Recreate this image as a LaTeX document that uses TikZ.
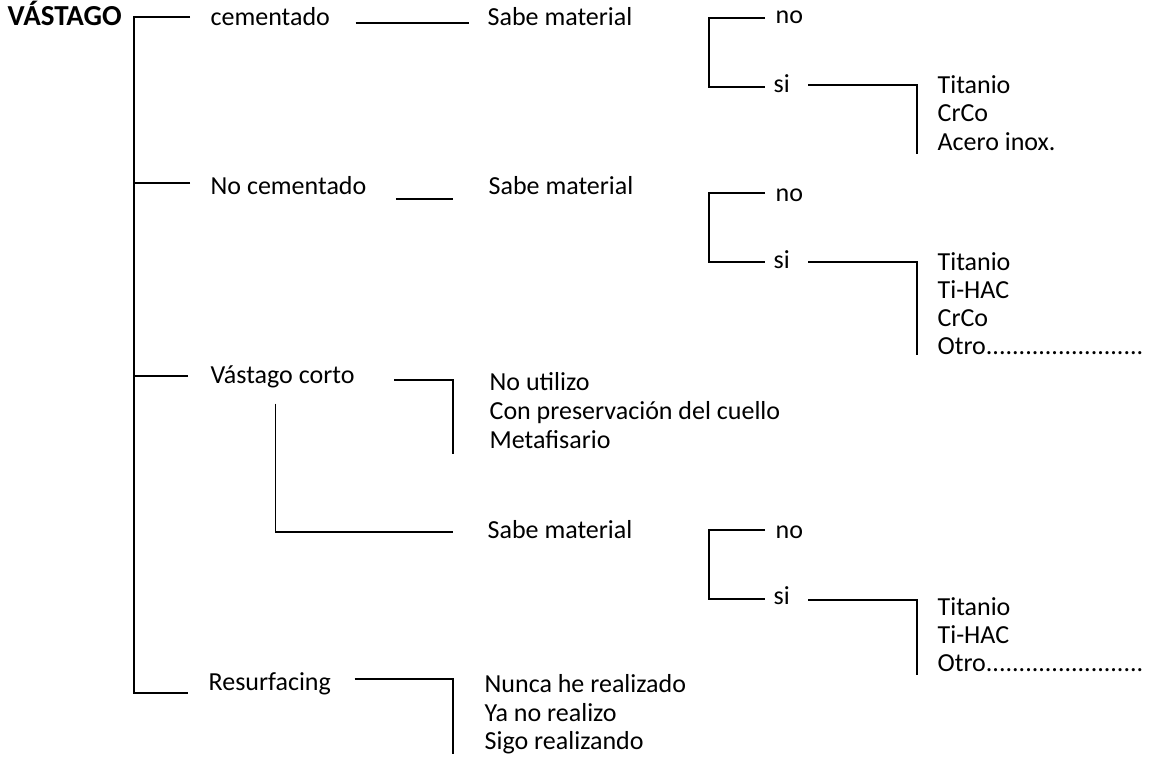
\documentclass[tikz,border=0pt]{standalone}
\usepackage{fontspec}
\setmainfont{Carlito}
\usepackage{tikz}
\newcommand{\otrolinea}{Otro........................}

\begin{document}
\begin{tikzpicture}[x=1pt,y=-1pt,line width=1.3pt]\tikzstyle{every node}+=[inner sep=0pt,anchor=west,text height=18pt,text depth=6pt,font=\fontsize{26}{27}\selectfont]
  \useasboundingbox (0,0) rectangle (1162,765);
  % first column
  \node (vastago) at (7,20) {\fontsize{29}{30}\selectfont\bfseries VÁSTAGO};
  \node (cem) at (210,20) {cementado};
  \node (nocem) at (210,188) {No cementado};
  \node (corto) at (210,377) {Vástago corto};
  \node (resurf) at (208,684) {Resurfacing};
  \draw ([xshift=-20pt,yshift=3pt]cem.west) -- ++(-56pt,0) |- ([xshift=-20pt,yshift=-9pt]resurf.west);
  \draw ([xshift=-20pt,yshift=5pt]nocem.west) -- ++(-56pt,0);
  \draw ([xshift=-22pt,yshift=1pt]corto.west) -- ++(-54pt,0);
  % sabe material
  \node (sabeA) at (487,20) {Sabe material};
  \node (sabeB) at (488,188) {Sabe material};
  \node (sabeC) at (487,532) {Sabe material};
  \draw ([xshift=25pt,yshift=-3pt]cem.east) -- ([xshift=-18pt,yshift=-3pt]sabeA.west);
  \draw ([xshift=29pt,yshift=-11pt]nocem.east) -- ([xshift=-35pt,yshift=-11pt]sabeB.west);
  \draw ([xshift=-7pt,yshift=-14pt]corto.south) |- ([xshift=-34pt]sabeC.west);
  % no / si
  \node (noA) at (775,18) {no};
  \node (siA) at (773,87) {si};
  \node (noB) at (775,195) {no};
  \node (siB) at (773,262) {si};
  \node (noC) at (775,532) {no};
  \node (siC) at (773,598) {si};
  \draw ([xshift=-10pt]noA.west) -- ++(-56pt,0) |- ([xshift=-8pt]siA.west);
  \draw ([xshift=-10pt,yshift=2pt]noB.west) -- ++(-56pt,0) |- ([xshift=-8pt]siB.west);
  \draw ([xshift=-10pt,yshift=2pt]noC.west) -- ++(-56pt,0) |- ([xshift=-8pt,yshift=-1pt]siC.west);
  % materiales
  \foreach \t [count=\i] in {Titanio,CrCo,{Acero inox.}}
    \node (matA\i) at (937,{60+28*\i}) {\t};
  \foreach \t [count=\i] in {Titanio,Ti-HAC,CrCo,\otrolinea}
    \node (matB\i) at (937,{236+28*\i}) {\t};
  \foreach \t [count=\i] in {Titanio,Ti-HAC,\otrolinea}
    \node (matC\i) at (937,{581+28*\i}) {\t};
  \draw ([xshift=18pt,yshift=2pt]siA.east) -| ([xshift=-20pt,yshift=-10pt]matA3.west);
  \draw ([xshift=18pt]siB.east) -| ([xshift=-20pt,yshift=-7pt]matB4.west);
  \draw ([xshift=18pt,yshift=-2pt]siC.east) -| ([xshift=-20pt,yshift=-10pt]matC3.west);
  % corto y resurfacing
  \foreach \t [count=\i] in {No utilizo,Con preservación del cuello,Metafisario}
    \node (cortoL\i) at (489,{355+29*\i}) {\t};
  \foreach \t [count=\i] in {Nunca he realizado,Ya no realizo,Sigo realizando}
    \node (resL\i) at (484,{658+28.5*\i}) {\t};
  \draw ([xshift=39pt,yshift=-3pt]corto.east) -| ([xshift=-36pt,yshift=-12pt]cortoL3.west);
  \draw ([xshift=23pt,yshift=5pt]resurf.east) -| ([xshift=-31pt,yshift=-10pt]resL3.west);
\end{tikzpicture}
\end{document}
